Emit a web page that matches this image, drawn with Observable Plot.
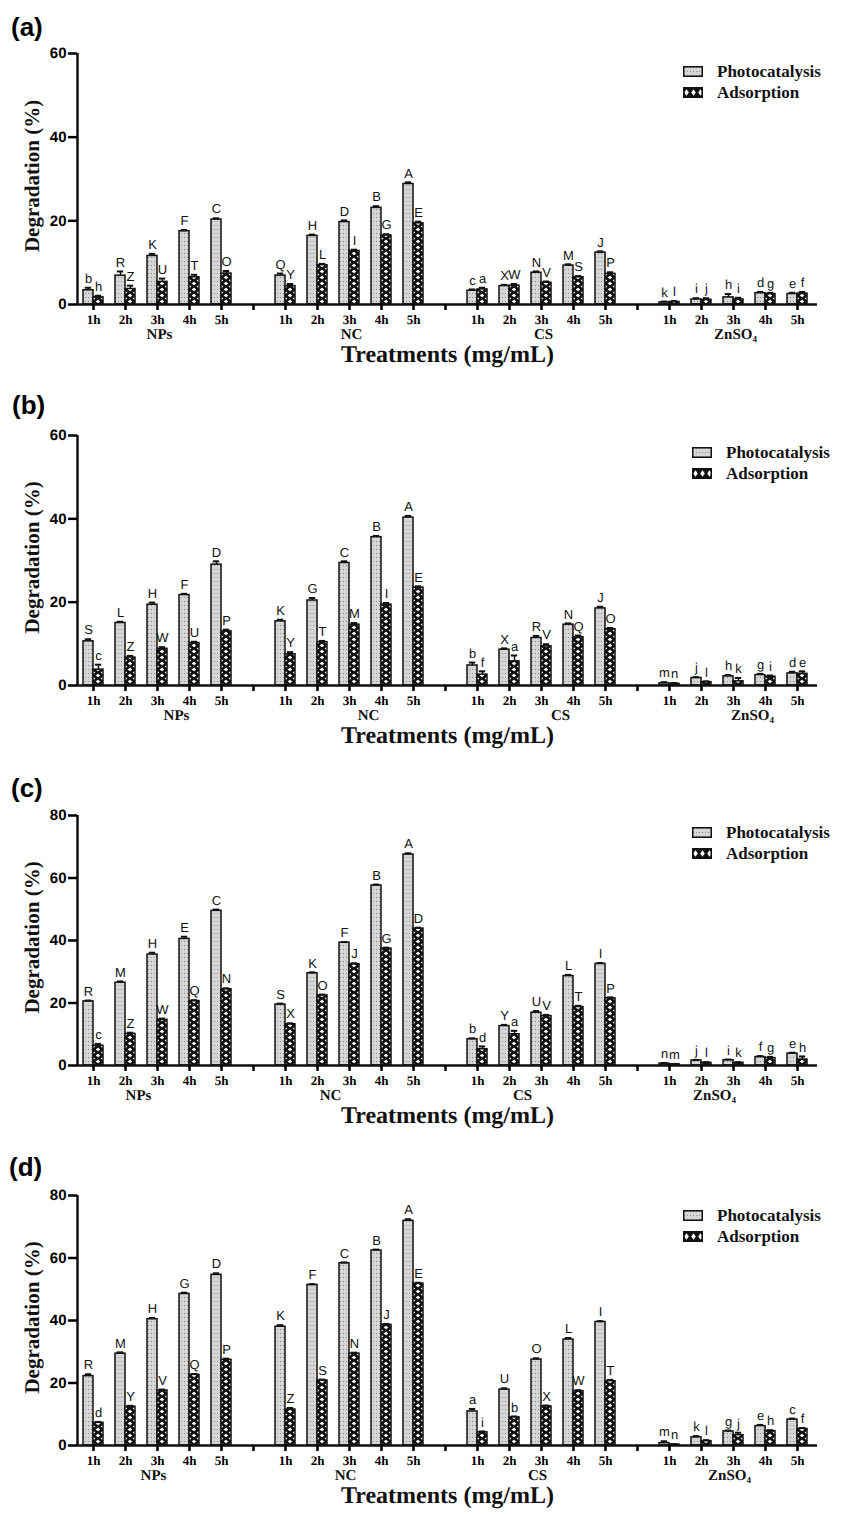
<!DOCTYPE html>
<html><head><meta charset="utf-8">
<script src="https://cdn.jsdelivr.net/npm/d3@7"></script>
<script src="https://cdn.jsdelivr.net/npm/@observablehq/plot@0.6"></script>
<style>
body{margin:0;background:#fff;-webkit-font-smoothing:antialiased;}
#root{position:relative;width:841px;}
.panel{position:relative;width:841px;}
.panel svg text{text-rendering:geometricPrecision;}
.plabel{position:absolute;font:bold 26px "Liberation Sans",Arial,sans-serif;line-height:1;}
.legend{position:absolute;font:bold 17px "Liberation Serif","Times New Roman",serif;color:#111;}
.legend .item{display:flex;align-items:center;height:21px;}
.legend svg{margin-right:14px;display:block;}
</style></head><body>
<svg width="0" height="0" style="position:absolute">
<defs>
<pattern id="dots" patternUnits="userSpaceOnUse" width="3" height="4">
  <rect width="3" height="4" fill="#d6d6d6"/>
  <rect x="1" y="1" width="1" height="1" fill="#8a8a8a"/>
</pattern>
<pattern id="xhatch" patternUnits="userSpaceOnUse" x="93" y="0" width="32" height="6">
  <rect width="32" height="6" fill="#111"/>
  <path d="M2.7,1.5 L5,-0.3 L7.3,1.5 L5,3.3 Z" fill="#fff"/>
  <path d="M-2.3,4.5 L0,2.7 L2.3,4.5 L0,6.3 Z" fill="#fff"/>
  <path d="M7.7,4.5 L10,2.7 L12.3,4.5 L10,6.3 Z" fill="#fff"/>
  <path d="M2.7,7.5 L5,5.7 L7.3,7.5 L5,9.3 Z" fill="#fff"/>
</pattern>
<pattern id="xhatchL" patternUnits="userSpaceOnUse" x="0" y="0" width="7" height="11">
  <rect width="7" height="11" fill="#111"/>
  <path d="M1.2,5.5 L3.5,2.2 L5.8,5.5 L3.5,8.8 Z" fill="#fff"/>
</pattern>
</defs></svg>
<div id="root"></div>
<script>
const hours = ["1h", "2h", "3h", "4h", "5h"];
const groups = ["NPs", "NC", "CS", "ZnSO₄"];
const seriesNames = ["Photocatalysis", "Adsorption"];

// Panel (a)
const photoA = [3.4, 6.9, 11.6, 17.5, 20.3, 6.9, 16.4, 19.7, 23.1, 28.8, 3.3, 4.4, 7.6, 9.3, 12.4, 0.5, 1.2, 1.7, 2.7, 2.5];
const adsA = [1.7, 3.7, 5.4, 6.5, 7.4, 4.4, 9.4, 12.8, 16.5, 19.4, 3.6, 4.5, 5.2, 6.5, 7.3, 0.6, 1.1, 1.2, 2.5, 2.6];
const photoErrA = [0.6, 1.0, 0.5, 0.3, 0.3, 0.5, 0.3, 0.4, 0.4, 0.4, 0.3, 0.3, 0.3, 0.3, 0.3, 0.2, 0.3, 0.8, 0.3, 0.3];
const adsErrA = [0.4, 0.8, 0.8, 0.6, 0.6, 0.5, 0.3, 0.3, 0.3, 0.4, 0.4, 0.4, 0.3, 0.3, 0.4, 0.2, 0.4, 0.4, 0.3, 0.4];
const photoLetA = ["b", "R", "K", "F", "C", "Q", "H", "D", "B", "A", "c", "X", "N", "M", "J", "k", "i", "h", "d", "e"];
const adsLetA = ["h", "Z", "U", "T", "O", "Y", "L", "I", "G", "E", "a", "W", "V", "S", "P", "l", "j", "i", "g", "f"];

// Panel (b)
const photoB = [10.6, 15.0, 19.4, 21.7, 29.0, 15.4, 20.4, 29.4, 35.6, 40.3, 4.8, 8.6, 11.4, 14.6, 18.5, 0.5, 1.8, 2.2, 2.5, 2.9];
const adsB = [3.8, 6.7, 8.8, 10.2, 13.0, 7.5, 10.4, 14.6, 19.4, 23.5, 2.6, 5.8, 9.4, 11.6, 13.5, 0.4, 0.8, 1.0, 2.1, 2.8];
const photoErrB = [0.5, 0.3, 0.5, 0.3, 0.8, 0.4, 0.6, 0.4, 0.3, 0.4, 0.7, 0.3, 0.5, 0.3, 0.4, 0.3, 0.2, 0.3, 0.3, 0.4];
const adsErrB = [1.2, 0.4, 0.4, 0.3, 0.4, 0.5, 0.3, 0.4, 0.4, 0.3, 0.8, 1.4, 0.5, 0.4, 0.3, 0.2, 0.2, 0.8, 0.3, 0.6];
const photoLetB = ["S", "L", "H", "F", "D", "K", "G", "C", "B", "A", "b", "X", "R", "N", "J", "m", "j", "h", "g", "d"];
const adsLetB = ["c", "Z", "W", "U", "P", "Y", "T", "M", "I", "E", "f", "a", "V", "Q", "O", "n", "l", "k", "i", "e"];

// Panel (c)
const photoC = [20.5, 26.5, 35.5, 40.5, 49.5, 19.5, 29.5, 39.3, 57.6, 67.5, 8.4, 12.6, 16.9, 28.6, 32.5, 0.6, 1.6, 1.7, 2.7, 3.8];
const adsC = [6.3, 10.1, 14.6, 20.6, 24.4, 13.2, 22.4, 32.4, 37.4, 43.8, 5.2, 10.0, 15.8, 18.7, 21.5, 0.4, 0.85, 0.85, 2.35, 1.9];
const photoErrC = [0.3, 0.4, 0.6, 0.7, 0.4, 0.3, 0.3, 0.2, 0.3, 0.4, 0.3, 0.4, 0.5, 0.4, 0.3, 0.2, 0.2, 0.2, 0.3, 0.3];
const adsErrC = [0.6, 0.4, 0.4, 0.3, 0.3, 0.3, 0.3, 0.3, 0.3, 0.3, 0.9, 1.1, 0.4, 0.4, 0.3, 0.1, 0.2, 0.2, 0.4, 1.0];
const photoLetC = ["R", "M", "H", "E", "C", "S", "K", "F", "B", "A", "b", "Y", "U", "L", "I", "n", "j", "i", "f", "e"];
const adsLetC = ["c", "Z", "W", "Q", "N", "X", "O", "J", "G", "D", "d", "a", "V", "T", "P", "m", "l", "k", "g", "h"];

// Panel (d)
const photoD = [22.2, 29.4, 40.4, 48.5, 54.6, 38.0, 51.4, 58.3, 62.4, 71.9, 10.9, 17.9, 27.5, 33.9, 39.5, 0.75, 2.6, 4.5, 6.2, 8.3];
const adsD = [7.25, 12.4, 17.6, 22.6, 27.4, 11.5, 20.8, 29.4, 38.6, 51.8, 4.2, 9.0, 12.5, 17.4, 20.6, 0.3, 1.4, 3.3, 4.6, 5.3];
const photoErrD = [0.6, 0.4, 0.4, 0.4, 0.5, 0.5, 0.2, 0.3, 0.3, 0.5, 0.8, 0.4, 0.4, 0.5, 0.3, 0.6, 0.4, 0.3, 0.4, 0.3];
const adsErrD = [0.3, 0.3, 0.3, 0.3, 0.4, 0.5, 0.3, 0.3, 0.3, 0.3, 0.3, 0.3, 0.3, 0.3, 0.4, 0.1, 0.3, 0.8, 0.3, 0.3];
const photoLetD = ["R", "M", "H", "G", "D", "K", "F", "C", "B", "A", "a", "U", "O", "L", "I", "m", "k", "g", "e", "c"];
const adsLetD = ["d", "Y", "V", "Q", "P", "Z", "S", "N", "J", "E", "i", "b", "X", "W", "T", "n", "l", "j", "h", "f"];

const yTicksA = [0, 20, 40, 60];
const yTicksC = [0, 20, 40, 60, 80];

const serif = '"Liberation Serif","Times New Roman",serif';
const sans = '"Liberation Sans",Arial,sans-serif';
const W = 0.3125; // bar width in slot units

function buildRows(photo, ads, pe, ae, pl, al) {
  const rows = [];
  groups.forEach((g, gi) => hours.forEach((h, hi) => {
    const i = gi * 5 + hi, slot = gi * 6 + hi;
    rows.push({series: seriesNames[0], x1: slot - W, x2: slot, xc: slot - W / 2, value: photo[i], top: photo[i] + pe[i], letter: pl[i]});
    rows.push({series: seriesNames[1], x1: slot, x2: slot + W, xc: slot + W / 2, value: ads[i], top: ads[i] + ae[i], letter: al[i]});
  }));
  return rows;
}

const panels = [
  {label: "(a)", data: [photoA, adsA, photoErrA, adsErrA, photoLetA, adsLetA], yTicks: yTicksA, height: 380, mt: 53, mb: 76, lab: [11, 14], leg: [683, 61], gdx: 2},
  {label: "(b)", data: [photoB, adsB, photoErrB, adsErrB, photoLetB, adsLetB], yTicks: yTicksA, height: 380, mt: 55, mb: 75, lab: [12, 12], leg: [692, 62], gdx: 19},
  {label: "(c)", data: [photoC, adsC, photoErrC, adsErrC, photoLetC, adsLetC], yTicks: yTicksC, height: 380, mt: 55, mb: 75, lab: [11, 15], leg: [692, 62], gdx: -19},
  {label: "(d)", data: [photoD, adsD, photoErrD, adsErrD, photoLetD, adsLetD], yTicks: yTicksC, height: 374, mt: 55, mb: 69, lab: [9, 14], leg: [683, 65], gdx: -4}
];

const root = document.getElementById("root");
const nSlots = groups.length * 6 - 1;

for (const p of panels) {
  const rows = buildRows(...p.data);
  const ymax = p.yTicks[p.yTicks.length - 1];
  const xmax = nSlots - 1 + 0.625;
  const div = document.createElement("div");
  div.className = "panel";
  div.style.height = p.height + "px";
  const chart = Plot.plot({
    width: 841,
    height: p.height,
    marginTop: p.mt,
    marginBottom: p.mb,
    marginLeft: 77,
    marginRight: 24,
    style: {background: "transparent", overflow: "visible"},
    x: {type: "linear", domain: [-0.5, xmax]},
    y: {domain: [0, ymax]},
    marks: [
      Plot.rectY(rows.filter(d => d.series === seriesNames[0]), {x1: "x1", x2: "x2", y: "value", fill: "url(#dots)", stroke: "#111", strokeWidth: 1.5}),
      Plot.rectY(rows.filter(d => d.series === seriesNames[1]), {x1: "x1", x2: "x2", y: "value", fill: "url(#xhatch)", stroke: "#111", strokeWidth: 1.5}),
      Plot.ruleX(rows, {x: "xc", y1: "value", y2: "top", stroke: "#111", strokeWidth: 1.5}),
      Plot.ruleY(rows, {y: "top", x1: d => d.xc - 0.1, x2: d => d.xc + 0.1, stroke: "#111", strokeWidth: 2}),
      Plot.text(rows, {x: "xc", y: "top", text: "letter", dy: -9, fontSize: 13, fontFamily: sans, fill: "#111"}),
      Plot.ruleX([-0.5], {y1: 0, y2: ymax, stroke: "#111", strokeWidth: 2.5}),
      Plot.ruleY([0], {x1: -0.5, x2: xmax, stroke: "#111", strokeWidth: 2.5}),
      Plot.axisY(p.yTicks, {tickSize: 9, tickPadding: 2, strokeWidth: 2.5, fontSize: 15, fontWeight: "bold", fontFamily: sans, label: null}),
      Plot.axisX(d3.range(nSlots), {tickSize: 6, tickPadding: 4, strokeWidth: 2.5, fontSize: 13, fontWeight: "bold", fontFamily: serif, label: null,
        tickFormat: s => (s % 6 === 5 ? "" : hours[s % 6])}),
      Plot.text(groups, {x: (d, i) => i * 6 + 2, frameAnchor: "bottom", dy: 34, dx: p.gdx, fontSize: 15, fontWeight: "bold", fontFamily: serif, fill: "#111"}),
      Plot.text(["Treatments (mg/mL)"], {frameAnchor: "bottom", dy: 57, fontSize: 24, fontWeight: "bold", fontFamily: serif, fill: "#111"}),
      Plot.text(["Degradation (%)"], {frameAnchor: "left", textAnchor: "middle", rotate: -90, dx: -45, dy: -3, fontSize: 21, fontWeight: "bold", fontFamily: serif, fill: "#111"})
    ]
  });
  chart.style.position = "absolute";
  chart.style.left = "0px";
  chart.style.top = "0px";
  div.appendChild(chart);

  const lab = document.createElement("div");
  lab.className = "plabel";
  lab.style.left = p.lab[0] + "px";
  lab.style.top = p.lab[1] + "px";
  lab.textContent = p.label;
  div.appendChild(lab);

  const leg = document.createElement("div");
  leg.className = "legend";
  leg.style.left = p.leg[0] + "px";
  leg.style.top = p.leg[1] + "px";
  const fills = ["url(#dots)", "url(#xhatchL)"];
  seriesNames.forEach((name, k) => {
    const item = document.createElement("div");
    item.className = "item";
    item.innerHTML = `<svg width="20" height="11"><rect x="0.75" y="0.75" width="18.5" height="9.5" fill="${fills[k]}" stroke="#111" stroke-width="1.5"/></svg><span>${name}</span>`;
    leg.appendChild(item);
  });
  div.appendChild(leg);
  root.appendChild(div);
}
</script>
</body></html>
